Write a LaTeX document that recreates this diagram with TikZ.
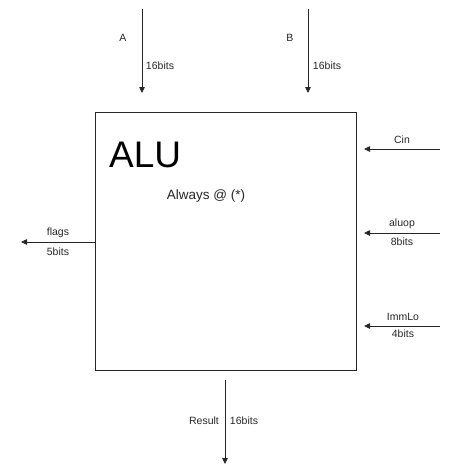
\documentclass[tikz,border=0pt]{standalone}
\usepackage{fontspec}
\setmainfont{Liberation Sans}
\usetikzlibrary{arrows.meta, positioning}

\begin{document}
\begin{tikzpicture}[x=1pt, y=-1pt,
    sig/.style={-{Triangle[length=6pt,width=5.5pt]}, draw=black!85, line width=0.8pt},
    lbl/.style={font=\fontsize{10.5}{13}\selectfont, text=black!85, inner sep=1pt}]
    \useasboundingbox (0,0) rectangle (461,475);
    \node[draw=black!85, line width=0.8pt, minimum width=261, minimum height=258, anchor=north west] (alu) at (95,112) {};
    \node[font=\fontsize{37}{40}\selectfont, anchor=base west, inner sep=0pt] (title) at (109,167) {ALU};
    \node[lbl, font=\fontsize{13.5}{15}\selectfont] (always) at (206,196) {Always @ (*)};
    % inputs from the top
    \coordinate (a0) at (142,9);
    \coordinate (a1) at (142,93);
    \coordinate (b0) at (308,9);
    \coordinate (b1) at (308,93);
    \draw[sig] (a0) -- (a1);
    \draw[sig] (b0) -- (b1);
    \node[lbl] (aname) at (123,38) {A};
    \node[lbl] (awidth) at (160,66) {16bits};
    \node[lbl] (bname) at (290,38) {B};
    \node[lbl] (bwidth) at (327,66) {16bits};
    % inputs from the right
    \coordinate (c0) at (440,149);
    \coordinate (c1) at (364,149);
    \coordinate (o0) at (440,233);
    \coordinate (o1) at (364,233);
    \coordinate (i0) at (440,326);
    \coordinate (i1) at (364,326);
    \draw[sig] (c0) -- (c1);
    \draw[sig] (o0) -- (o1);
    \draw[sig] (i0) -- (i1);
    \node[lbl] (cin) at (402,140) {Cin};
    \node[lbl] (aluop) at (402,224) {aluop};
    \node[lbl] (opwidth) at (402,242) {8bits};
    \node[lbl] (immlo) at (403,317) {ImmLo};
    \node[lbl] (immwidth) at (403,334) {4bits};
    % outputs
    \coordinate (f0) at (95,242);
    \coordinate (f1) at (21,242);
    \draw[sig] (f0) -- (f1);
    \node[lbl] (flags) at (58,233) {flags};
    \node[lbl] (fwidth) at (58,252) {5bits};
    \coordinate (r0) at (225,380);
    \coordinate (r1) at (225,464);
    \draw[sig] (r0) -- (r1);
    \node[lbl] (result) at (204,421) {Result};
    \node[lbl] (rwidth) at (244,421) {16bits};
\end{tikzpicture}
\end{document}
